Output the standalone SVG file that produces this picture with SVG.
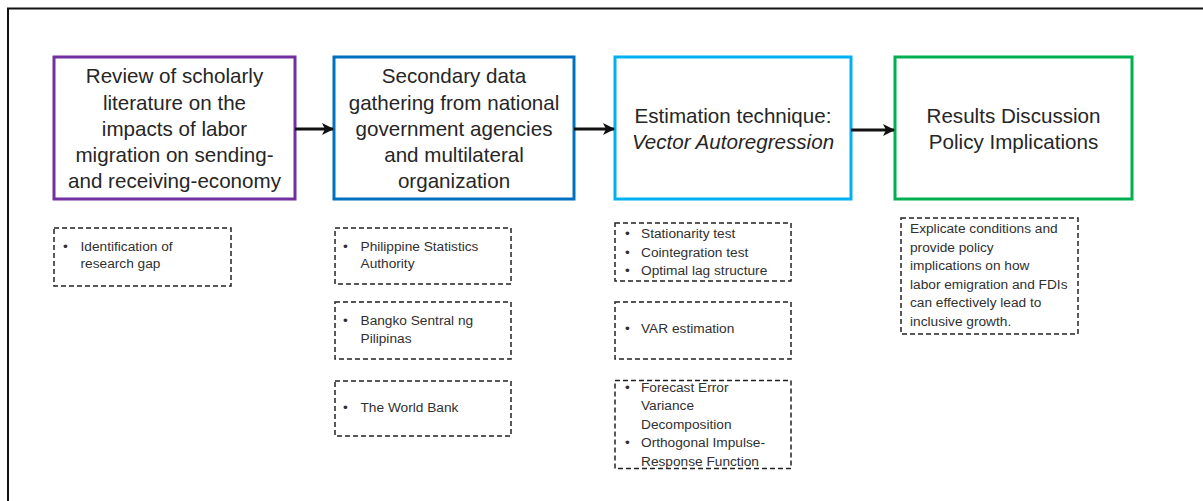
<svg xmlns="http://www.w3.org/2000/svg" width="1203" height="501" viewBox="0 0 1203 501">
<style>
.frame{fill:none;stroke:#111;stroke-width:2}
.main{fill:#fff;stroke-width:3}
.mt{font-family:"Liberation Sans",Arial,sans-serif;font-size:20.6px;fill:#262626;text-anchor:middle}
.dash{fill:#fff;stroke:#222;stroke-width:1.5;stroke-dasharray:5 3}
.st{font-family:"Liberation Sans",Arial,sans-serif;font-size:13.7px;fill:#303030}
.conn{stroke:#111;stroke-width:3;fill:none;marker-end:url(#ah)}
</style>
<defs>
<marker id="ah" viewBox="0 0 12 12" refX="11" refY="6" markerWidth="12" markerHeight="12" markerUnits="userSpaceOnUse" orient="auto">
<path d="M0,0 L12,6 L0,12 L3,6 Z" fill="#111"/>
</marker>
</defs>
<rect width="1203" height="501" fill="#fff"/>
<rect class="frame" x="8" y="8.5" width="1210" height="510"/>

<g id="node-review">
<rect class="main" x="54" y="57" width="241" height="142" stroke="#7030A0"/>
<text class="mt"><tspan x="174.5" y="83">Review of scholarly</tspan><tspan x="174.5" y="109.5">literature on the</tspan><tspan x="174.5" y="136">impacts of labor</tspan><tspan x="174.5" y="162">migration on sending-</tspan><tspan x="174.5" y="188">and receiving-economy</tspan></text>
</g>
<g id="node-secondary">
<rect class="main" x="334" y="57" width="240" height="142" stroke="#0070C0"/>
<text class="mt"><tspan x="454" y="83">Secondary data</tspan><tspan x="454" y="109.5">gathering from national</tspan><tspan x="454" y="136">government agencies</tspan><tspan x="454" y="162">and multilateral</tspan><tspan x="454" y="188">organization</tspan></text>
</g>
<g id="node-estimation">
<rect class="main" x="615" y="57" width="236" height="142" stroke="#00B0F0"/>
<text class="mt"><tspan x="733" y="123">Estimation technique:</tspan><tspan x="733" y="149" font-style="italic">Vector Autoregression</tspan></text>
</g>
<g id="node-results">
<rect class="main" x="895" y="57" width="237" height="142" stroke="#00B050"/>
<text class="mt"><tspan x="1013.5" y="123">Results Discussion</tspan><tspan x="1013.5" y="149">Policy Implications</tspan></text>
</g>

<g id="connectors">
<line class="conn" x1="295" y1="129" x2="333" y2="129"/>
<line class="conn" x1="574" y1="129" x2="614" y2="129"/>
<line class="conn" x1="851" y1="130" x2="894" y2="130"/>
</g>

<g id="note-gap">
<rect class="dash" x="54" y="228" width="177" height="58"/>
<text class="st"><tspan x="63" y="251">•</tspan><tspan x="80.5" y="251">Identification of</tspan><tspan x="80.5" y="268">research gap</tspan></text>
</g>
<g id="note-psa">
<rect class="dash" x="335" y="228" width="176" height="56"/>
<text class="st"><tspan x="343" y="251">•</tspan><tspan x="360.5" y="251">Philippine Statistics</tspan><tspan x="360.5" y="268">Authority</tspan></text>
</g>
<g id="note-bsp">
<rect class="dash" x="335" y="302" width="176" height="57"/>
<text class="st"><tspan x="343" y="325">•</tspan><tspan x="360.5" y="325">Bangko Sentral ng</tspan><tspan x="360.5" y="343">Pilipinas</tspan></text>
</g>
<g id="note-wb">
<rect class="dash" x="335" y="381" width="176" height="55"/>
<text class="st"><tspan x="343" y="412">•</tspan><tspan x="360.5" y="412">The World Bank</tspan></text>
</g>
<g id="note-tests">
<rect class="dash" x="615" y="223" width="176" height="58"/>
<text class="st"><tspan x="625" y="238">•</tspan><tspan x="641" y="238">Stationarity test</tspan><tspan x="625" y="256.5">•</tspan><tspan x="641" y="256.5">Cointegration test</tspan><tspan x="625" y="275">•</tspan><tspan x="641" y="275">Optimal lag structure</tspan></text>
</g>
<g id="note-var">
<rect class="dash" x="615" y="302" width="176" height="57"/>
<text class="st"><tspan x="625" y="333">•</tspan><tspan x="641" y="333">VAR estimation</tspan></text>
</g>
<g id="note-fevd">
<rect class="dash" x="615" y="380.5" width="176" height="88"/>
<text class="st"><tspan x="625" y="391.5">•</tspan><tspan x="641" y="391.5">Forecast Error</tspan><tspan x="641" y="410">Variance</tspan><tspan x="641" y="428.5">Decomposition</tspan><tspan x="625" y="447">•</tspan><tspan x="641" y="447">Orthogonal Impulse-</tspan><tspan x="641" y="465.5">Response Function</tspan></text>
</g>
<g id="note-policy">
<rect class="dash" x="901" y="218" width="177" height="116"/>
<text class="st"><tspan x="910" y="233">Explicate conditions and</tspan><tspan x="910" y="251.5">provide policy</tspan><tspan x="910" y="270">implications on how</tspan><tspan x="910" y="288.5">labor emigration and FDIs</tspan><tspan x="910" y="307">can effectively lead to</tspan><tspan x="910" y="325.5">inclusive growth.</tspan></text>
</g>
</svg>
